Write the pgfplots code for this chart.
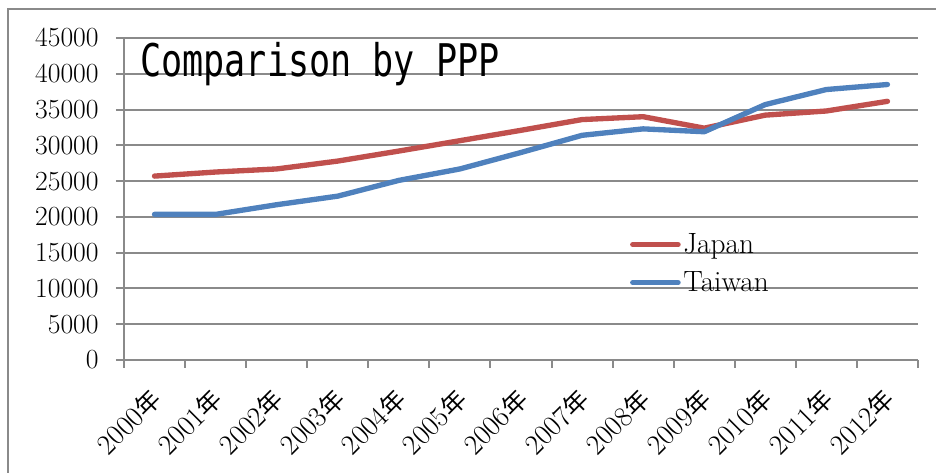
\documentclass[border=0pt]{standalone}
\usepackage{fontspec}
\usepackage{graphicx}
\usepackage{pgfplots}
\pgfplotsset{compat=1.18}
\newfontfamily\cjk{Noto Sans CJK JP}
\newfontfamily\titlefont{DejaVu Sans Mono}
\definecolor{jp}{HTML}{C0504D}
\definecolor{tw}{HTML}{4F81BD}
\definecolor{gridg}{HTML}{8A8A8A}
\newcommand{\nen}{{\cjk\fontsize{18.5}{20}\selectfont 年}}
\pgfplotstableread{
x japan taiwan
0 25700 20350
1 26270 20350
2 26700 21700
3 27800 22900
4 29200 25100
5 30650 26700
6 32100 29000
7 33600 31400
8 34000 32300
9 32400 31900
10 34220 35700
11 34800 37800
12 36150 38500
}\ppp
\begin{document}
\begin{tikzpicture}[x=0.75pt,y=0.75pt]
\useasboundingbox (0,0) rectangle (936,473);
\draw[gridg, line width=1.5pt] (8,-20) -- (8,464) -- (950,464);
\begin{axis}[
 at={(93pt,84.75pt)}, anchor=south west, scale only axis,
 width=595.5pt, height=241.5pt,
 xmin=-0.5, xmax=12.5, ymin=0, ymax=45000,
 ytick={0,5000,...,45000},
 scaled y ticks=false,
 xtick={-0.5,0.5,...,12.5},
 x tick label as interval,
 xticklabels={2000\nen,2001\nen,2002\nen,2003\nen,2004\nen,2005\nen,2006\nen,2007\nen,2008\nen,2009\nen,2010\nen,2011\nen,2012\nen},
 axis x line=bottom, axis y line=left,
 axis line style={gridg, line width=1.5pt, -},
 tick align=outside,
 major tick length=6pt,
 tick style={gridg, line width=1.5pt},
 ymajorgrids, major grid style={gridg, line width=1.5pt},
 /pgf/number format/1000 sep={},
 tick label style={font=\fontsize{21.5}{24}\selectfont},
 xticklabel style={xshift=-4.5pt, yshift=-9pt, rotate=45, anchor=north east},
 yticklabel style={xshift=-9.5pt},
 legend style={at={(0.632,0.41)}, anchor=north west, draw=none, fill=none,
   font=\fontsize{22}{26}\selectfont, row sep=8pt},
 legend cell align=left,
 legend image code/.code={\draw[#1] (0pt,0pt) -- (34pt,0pt);},
 clip=false,
]
\addplot[jp, line width=4pt, line join=round, line cap=round] table[x=x,y=japan]{\ppp};
\addlegendentry{Japan}
\addplot[tw, line width=4pt, line join=round, line cap=round] table[x=x,y=taiwan]{\ppp};
\addlegendentry{Taiwan}
\end{axis}
\node[anchor=base west, inner sep=0pt] at (140,396) {\scalebox{0.78}[1]{\titlefont\fontsize{33.75}{40}\selectfont Comparison by PPP}};
\end{tikzpicture}
\end{document}
